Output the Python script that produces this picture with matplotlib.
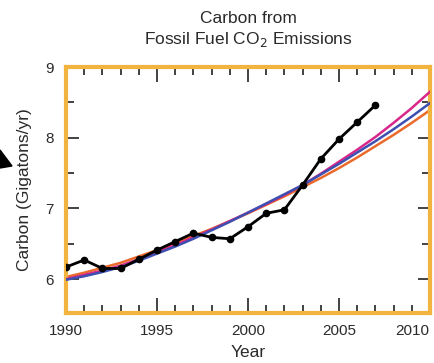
import matplotlib
matplotlib.use("Agg")
import matplotlib.pyplot as plt
from matplotlib.patches import Polygon
from matplotlib.ticker import MultipleLocator
from matplotlib.transforms import ScaledTranslation

plt.rcParams['font.family'] = ['Liberation Sans', 'DejaVu Sans']

# Observed fossil-fuel carbon emissions (GtC/yr)
obs_years = list(range(1990, 2008))
obs_values = [6.17, 6.27, 6.15, 6.15, 6.28, 6.41, 6.53, 6.65, 6.59, 6.57,
              6.74, 6.93, 6.98, 7.33, 7.70, 7.98, 8.22, 8.46]

# Scenario projections (GtC/yr)
proj_years = list(range(1990, 2011))
magenta_values = [6.00, 6.06, 6.12, 6.19, 6.28, 6.38, 6.48, 6.59, 6.70, 6.82,
                  6.94, 7.06, 7.19, 7.33, 7.49, 7.66, 7.83, 8.01, 8.21, 8.42, 8.65]
blue_values = [5.99, 6.04, 6.10, 6.17, 6.26, 6.36, 6.46, 6.57, 6.69, 6.81,
               6.94, 7.07, 7.20, 7.33, 7.48, 7.63, 7.79, 7.95, 8.12, 8.30, 8.49]
orange_values = [6.03, 6.09, 6.16, 6.23, 6.32, 6.41, 6.51, 6.61, 6.71, 6.82,
                 6.93, 7.05, 7.17, 7.30, 7.43, 7.57, 7.72, 7.88, 8.04, 8.21, 8.39]

x_ticks = [1990, 1995, 2000, 2005, 2010]
y_ticks = [6, 7, 8, 9]

frame_color = '#f2b43e'
text_color = '#2a2a2a'

fig = plt.figure(figsize=(4.35, 3.63), dpi=100)
ax = fig.add_axes([66 / 435, 1 - 313 / 363, (430 - 66) / 435, (313 - 67) / 363])

ax.plot(proj_years, orange_values, color='#ea6a2c', lw=1.8, zorder=2)
ax.plot(proj_years, magenta_values, color='#d8268a', lw=1.8, zorder=3)
ax.plot(proj_years, blue_values, color='#3d4fb0', lw=1.8, zorder=4)
ax.plot(obs_years, obs_values, color='black', lw=2.0, marker='o', ms=4.5, zorder=5)

ax.set_xlim(1990, 2010)
ax.set_ylim(5.52, 9.0)
ax.set_xticks(x_ticks)
ax.set_yticks(y_ticks)
ax.xaxis.set_minor_locator(MultipleLocator(1))
ax.yaxis.set_minor_locator(MultipleLocator(0.5))
ax.tick_params(which='both', direction='in', top=True, right=True,
               color='#222222', labelsize=11, labelcolor=text_color)
ax.tick_params(which='major', length=11, width=1.2)
ax.tick_params(which='minor', length=6, width=1.2)
ax.tick_params(axis='x', pad=8)
ax.tick_params(axis='y', which='major', length=9, pad=9)
ax.tick_params(axis='y', which='minor', length=6)
ax.tick_params(axis='y', labelright=False)

# keep the last year label inside the canvas
last = ax.get_xticklabels()[-1]
last.set_transform(last.get_transform() + ScaledTranslation(-0.18, 0, fig.dpi_scale_trans))

for sp in ax.spines.values():
    sp.set_color(frame_color)
    sp.set_linewidth(3)

ax.set_xlabel('Year', fontsize=12.5, labelpad=5, color=text_color)
ax.set_ylabel('Carbon (Gigatons/yr)', fontsize=12.5, labelpad=9, color=text_color)

fig.text(0.57, 0.97, 'Carbon from\nFossil Fuel CO$_2$ Emissions',
         ha='center', va='top', fontsize=12.5, linespacing=1.3, color=text_color)

# Arrowhead pointing into the chart from the left edge
arrow = Polygon([[0, 1 - 150 / 363], [0, 1 - 168 / 363], [12 / 435, 1 - 166 / 363]],
                closed=True, transform=fig.transFigure, color='black')
fig.patches.append(arrow)

fig.savefig('out.png', dpi=100)
